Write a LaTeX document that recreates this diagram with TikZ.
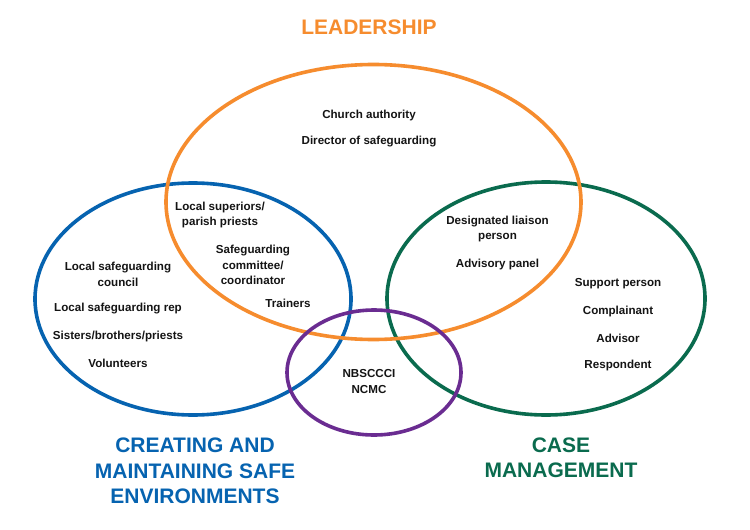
\documentclass[tikz,border=0pt]{standalone}
\usepackage{fontspec}
\setmainfont{Liberation Sans}
\definecolor{cOrange}{RGB}{246,140,46}
\definecolor{cBlue}{RGB}{6,99,176}
\definecolor{cGreen}{RGB}{10,107,78}
\definecolor{cPurple}{RGB}{106,44,145}
\definecolor{cText}{RGB}{20,20,20}
\tikzset{
  ring/.style={line width=3.6pt},
  item/.style={font=\bfseries\fontsize{11.6}{15.6}\selectfont, text=cText, align=center, inner sep=0pt},
  head/.style={font=\bfseries\fontsize{21}{25.5}\selectfont, align=center, inner sep=0pt}
}
\begin{document}
\begin{tikzpicture}[x=1pt,y=-1pt]
\useasboundingbox (0,0) rectangle (750,530);
\fill[white] (0,0) rectangle (750,530);
% rings
\draw[ring, cBlue] (193,299) ellipse [x radius=158, y radius=116];
\draw[ring, cGreen] (546,298.5) ellipse [x radius=159, y radius=116.5];
\draw[ring, cOrange] (373.5,202) ellipse [x radius=207.5, y radius=137.5];
\draw[ring, cPurple] (374,372.5) ellipse [x radius=87, y radius=62.5];
% headings
\node[head, text=cOrange] (lead) at (369,27) {LEADERSHIP};
\node[head, text=cBlue] (safe) at (195,471) {CREATING AND\\MAINTAINING SAFE\\ENVIRONMENTS};
\node[head, text=cGreen] (case) at (561,458) {CASE\\MANAGEMENT};
% leadership
\node[item] (church) at (369,115) {Church authority};
\node[item] (dir) at (369,142) {Director of safeguarding};
% overlap leadership/safe
\node[item] (sup) at (220,215) {Local superiors/\\parish priests};
\node[item] (comm) at (253,265) {Safeguarding\\committee/\\coordinator};
\node[item] (train) at (288,303) {Trainers};
% safe environments
\node[item] (lsc) at (118,274.5) {Local safeguarding\\council};
\node[item] (rep) at (118,309) {Local safeguarding rep};
\node[item] (sis) at (118,336) {Sisters/brothers/priests};
\node[item] (vol) at (118,363) {Volunteers};
% overlap leadership/case
\node[item] (dlp) at (497.5,229) {Designated liaison\\person};
\node[item] (adv) at (497.5,264) {Advisory panel};
% case management
\node[item] (spt) at (618,284) {Support person};
\node[item] (cmp) at (618,311) {Complainant};
\node[item] (advr) at (618,338) {Advisor};
\node[item] (resp) at (618,365) {Respondent};
% centre
\node[item] (nb) at (369,381.5) {NBSCCCI\\NCMC};
\end{tikzpicture}
\end{document}
